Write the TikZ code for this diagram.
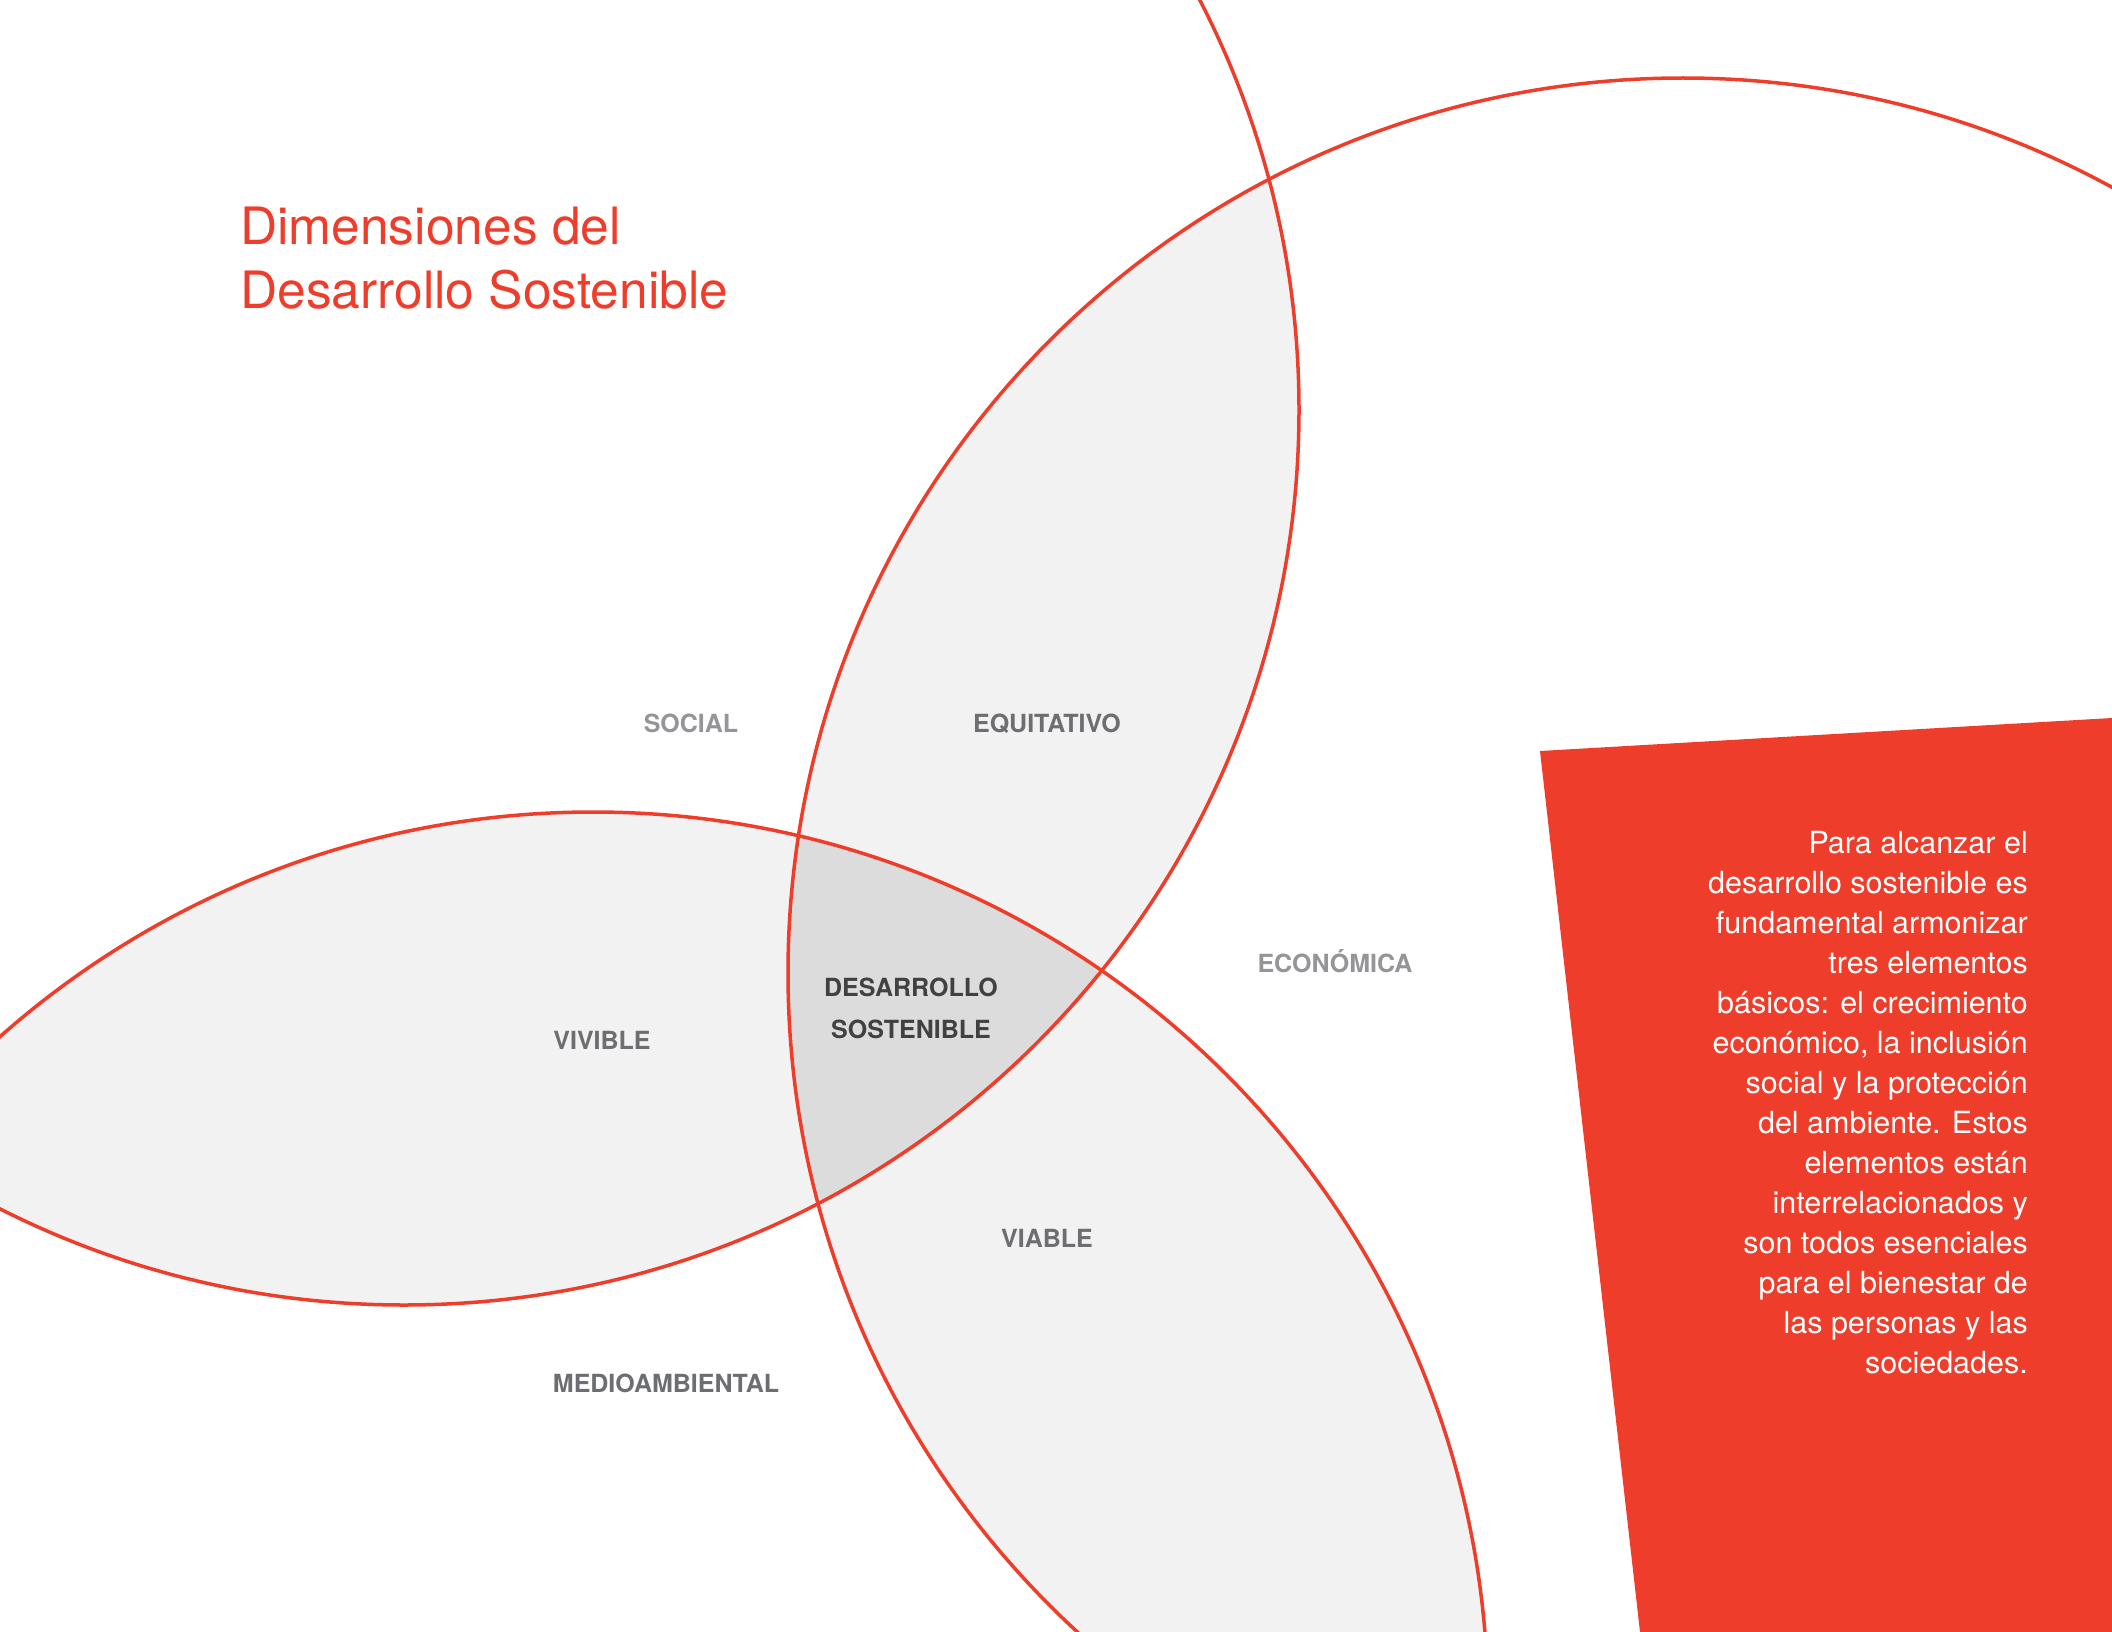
\documentclass[tikz,border=0pt]{standalone}
\usepackage{fontspec}
\setmainfont{TeX Gyre Heros}
\usepackage{tikz}
\usetikzlibrary{positioning}

\definecolor{rojo}{HTML}{EE3D2B}
\definecolor{grisclaro}{HTML}{F2F2F2}
\definecolor{grisoscuro}{HTML}{DCDCDC}
\definecolor{textoclaro}{HTML}{939598}
\definecolor{textomedio}{HTML}{6D6E71}
\definecolor{textooscuro}{HTML}{414042}

\tikzset{
	borde/.style={draw=rojo, line width=3.5pt},
	etiqueta/.style={inner sep=0pt, anchor=base, font=\fontsize{25}{30}\selectfont\bfseries},
}

\begin{document}
\begin{tikzpicture}[x=1pt,y=-1pt]
	\useasboundingbox (0,0) rectangle (2112,1632);

	% centros de las tres dimensiones
	\coordinate (social) at (404,410);
	\coordinate (economica) at (1683,973);
	\coordinate (ambiental) at (593,1707);

	% intersecciones de a dos
	\begin{scope}
		\clip (social) circle [radius=895pt];
		\fill[grisclaro] (economica) circle [radius=895pt];
		\fill[grisclaro] (ambiental) circle [radius=895pt];
	\end{scope}
	\begin{scope}
		\clip (economica) circle [radius=895pt];
		\fill[grisclaro] (ambiental) circle [radius=895pt];
	\end{scope}
	% interseccion de las tres
	\begin{scope}
		\clip (social) circle [radius=895pt];
		\clip (economica) circle [radius=895pt];
		\fill[grisoscuro] (ambiental) circle [radius=895pt];
	\end{scope}

	\draw[borde] (social) circle [radius=895pt];
	\draw[borde] (economica) circle [radius=895pt];
	\draw[borde] (ambiental) circle [radius=895pt];

	% recuadro rojo
	\fill[rojo] (1540,751) -- (2112,718) -- (2112,1632) -- (1640,1632) -- cycle;

	\node (titulo) [inner sep=0pt, anchor=north west, align=left, text=rojo,
		font=\fontsize{51.5}{64}\selectfont] at (240,207)
		{Dimensiones del\\Desarrollo Sostenible};

	\begin{scope}[every node/.style={etiqueta}]
		\node[text=textoclaro] (lsocial) at (691,732) {SOCIAL};
		\node[text=textomedio] (lequitativo) at (1047,732) {EQUITATIVO};
		\node[text=textoclaro] (leconomica) at (1335,972) {ECONÓMICA};
		\node[text=textomedio] (lvivible) at (602,1049) {VIVIBLE};
		\node[text=textomedio] (lviable) at (1047,1247) {VIABLE};
		\node[text=textomedio] (lambiental) at (666,1392) {MEDIOAMBIENTAL};
		\node[text=textooscuro] (ldesarrollo) at (911,996) {DESARROLLO};
		\node[text=textooscuro] (lsostenible) at (911,1038) {SOSTENIBLE};
	\end{scope}

	\node (parrafo) [inner sep=0pt, anchor=north east, align=right, text=white,
		font=\fontsize{30.5}{40}\selectfont] at (2028,831)
		{Para alcanzar el\\desarrollo sostenible es\\fundamental armonizar\\tres elementos\\
		básicos: el crecimiento\\económico, la inclusión\\social y la protección\\
		del ambiente. Estos\\elementos están\\interrelacionados y\\son todos esenciales\\
		para el bienestar de\\las personas y las\\sociedades.};
\end{tikzpicture}
\end{document}
